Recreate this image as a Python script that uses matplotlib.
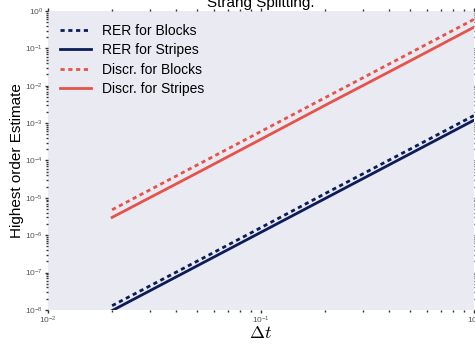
import numpy as np
import matplotlib
matplotlib.use("Agg")
import matplotlib.pyplot as plt


# step sizes and estimates
DT = [0.02, 0.05, 0.1, 0.2, 0.5, 1.0]
RER_BLOCKS = [1.3e-8, 2.0e-7, 1.6e-6, 1.3e-5, 2.0e-4, 1.6e-3]
RER_STRIPES = [9.6e-9, 1.5e-7, 1.2e-6, 9.6e-6, 1.5e-4, 1.2e-3]
DISCR_BLOCKS = [4.8e-6, 7.5e-5, 6.0e-4, 4.8e-3, 7.5e-2, 0.6]
DISCR_STRIPES = [3.0e-6, 4.6e-5, 3.7e-4, 3.0e-3, 4.6e-2, 0.37]

NAVY = "#0c1c58"
RED = "#e5534b"
DASH = (1.5, 1.3)


def configure_matplotlib():
    plt.rcParams.update({
        "font.family": ["Liberation Sans", "DejaVu Sans"],
        "mathtext.fontset": "cm",
        "axes.facecolor": "#eaeaf2",
        "axes.edgecolor": "white",
        "axes.linewidth": 0,
        "xtick.color": "#333333",
        "ytick.color": "#333333",
        "xtick.labelcolor": "#555555",
        "ytick.labelcolor": "#555555",
        "xtick.labelsize": 6,
        "ytick.labelsize": 6,
        "xtick.major.size": 2,
        "ytick.major.size": 2,
        "xtick.minor.size": 1.2,
        "ytick.minor.size": 1.2,
        "xtick.major.width": 1,
        "ytick.major.width": 1,
        "xtick.minor.width": 1,
        "ytick.minor.width": 1,
    })


def main():
    configure_matplotlib()
    fig = plt.figure(figsize=(4.75, 3.44), dpi=100)
    ax = fig.add_axes([0.101, 0.099, 0.897, 0.869])

    ax.loglog(DT, RER_BLOCKS, "--", dashes=DASH, color=NAVY, lw=2, label="RER for Blocks")
    ax.loglog(DT, RER_STRIPES, "-", color=NAVY, lw=2, label="RER for Stripes")
    ax.loglog(DT, DISCR_BLOCKS, "--", dashes=DASH, color=RED, lw=2, label="Discr. for Blocks")
    ax.loglog(DT, DISCR_STRIPES, "-", color=RED, lw=2, label="Discr. for Stripes")

    ax.set_xlim(1e-2, 1e0)
    ax.set_ylim(1e-8, 1e0)
    ax.tick_params(which="both", top=True, right=True, pad=1.5)
    ax.grid(False)
    for spine in ax.spines.values():
        spine.set_visible(False)

    ax.set_title("Strang Splitting.", fontsize=11, pad=3)
    ax.set_xlabel(r"$\Delta t$", fontsize=13, labelpad=-1)
    ax.set_ylabel("Highest order Estimate", fontsize=11, labelpad=1)

    ax.legend(loc="upper left", frameon=False, fontsize=10,
              handlelength=2.2, borderaxespad=0.5, labelspacing=0.4)

    fig.savefig("out.png", dpi=100)
    plt.close(fig)


if __name__ == "__main__":
    main()
